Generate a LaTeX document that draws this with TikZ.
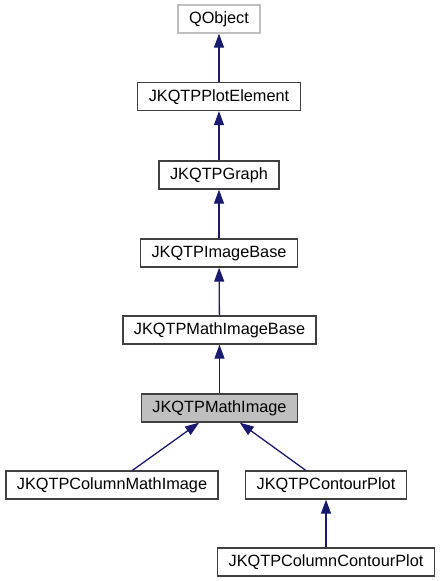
\documentclass[tikz,border=0pt]{standalone}
\usepackage{fontspec}
\setmainfont{Liberation Sans}
\usepackage{xcolor}
\usepackage{tikz}
\usetikzlibrary{arrows.meta}

\definecolor{edgeblue}{HTML}{191970}
\definecolor{boxline}{HTML}{404040}

\begin{document}
\begin{tikzpicture}[
        x=1pt, y=-1pt,
        font=\fontsize{16.3}{19}\selectfont,
        box/.style={draw=boxline, line width=1.3pt, fill=white, minimum height=28pt, inner xsep=11pt, inner ysep=0pt, text height=12pt, text depth=3pt},
        greybox/.style={box, fill=gray!50},
        extbox/.style={box, draw=gray!50},
        arrow/.style={draw=edgeblue, line width=1.3pt, -{Triangle[width=10pt, length=14pt]}}
    ]
        \useasboundingbox (0,0) rectangle (442,581);

        % Classes
        \node (qobject) [extbox] at (219, 19) {QObject};
        \node (plotelement) [box] at (219, 96.5) {JKQTPPlotElement};
        \node (graph) [box] at (219, 175) {JKQTPGraph};
        \node (imagebase) [box] at (219, 253) {JKQTPImageBase};
        \node (mathimagebase) [box] at (219.5, 330) {JKQTPMathImageBase};
        \node (mathimage) [greybox] at (219.5, 408) {JKQTPMathImage};
        \node (colmathimage) [box] at (112, 485) {JKQTPColumnMathImage};
        \node (contourplot) [box] at (326, 485) {JKQTPContourPlot};
        \node (colcontourplot) [box] at (326, 562) {JKQTPColumnContourPlot};

        % Inheritance
        \draw [arrow] (plotelement) -- (qobject);
        \draw [arrow] (graph) -- (plotelement);
        \draw [arrow] (imagebase) -- (graph);
        \draw [arrow] (mathimagebase) -- (imagebase);
        \draw [arrow] (mathimage) -- (mathimagebase);
        \draw [arrow] (colmathimage) -- (mathimage);
        \draw [arrow] (contourplot) -- (mathimage);
        \draw [arrow] (colcontourplot) -- (contourplot);
    \end{tikzpicture}
\end{document}
